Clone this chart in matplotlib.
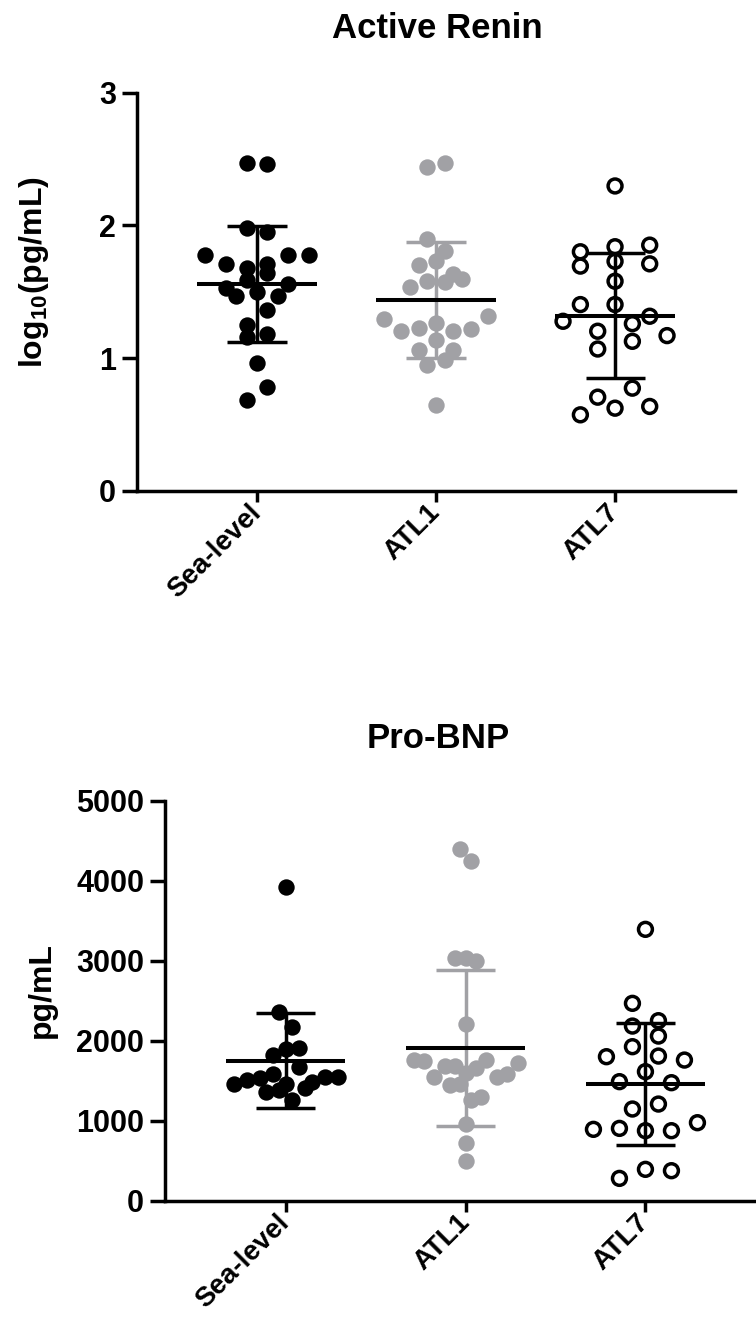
import numpy as np
import matplotlib
matplotlib.use("Agg")
from matplotlib import pyplot as plt

plt.rcParams['font.family'] = ['Liberation Sans', 'DejaVu Sans']
plt.rcParams['font.weight'] = 'bold'
plt.rcParams['mathtext.fontset'] = 'custom'
plt.rcParams['mathtext.rm'] = 'Liberation Sans:bold'
plt.rcParams['mathtext.bf'] = 'Liberation Sans:bold'

groups = ["Sea-level", "ATL1", "ATL7"]

# Active Renin, log10(pg/mL)  (roughly top-down, left-right)
renin_sea = [2.47, 2.46, 1.98, 1.95, 1.78, 1.71, 1.68, 1.71, 1.78, 1.78, 1.53, 1.59,
             1.64, 1.56, 1.47, 1.50, 1.47, 1.25, 1.36, 1.16, 1.18, 0.96, 0.68, 0.78]
renin_atl1 = [2.443, 2.468, 1.899, 1.806, 1.698, 1.73, 1.637, 1.537, 1.579, 1.572,
              1.597, 1.297, 1.207, 1.227, 1.264, 1.202, 1.222, 1.315, 1.058, 1.133,
              1.058, 0.95, 0.987, 0.647]
renin_atl7 = [2.297, 1.801, 1.839, 1.851, 1.693, 1.729, 1.71, 1.579, 1.403, 1.403,
              1.315, 1.277, 1.202, 1.259, 1.169, 1.068, 1.126, 0.705, 0.773, 0.572,
              0.622, 0.635]

# Pro-BNP, pg/mL
bnp_sea = [3925, 2362, 2175, 1821, 1892, 1912, 1458, 1508, 1529, 1583, 1458, 1675,
           1487, 1550, 1542, 1362, 1383, 1258, 1404]
bnp_atl1 = [4392, 4250, 3037, 3037, 3000, 2204, 1758, 1750, 1542, 1683, 1688, 1592,
            1654, 1758, 1542, 1583, 1725, 1446, 1458, 1258, 1300, 958, 725, 500]
bnp_atl7 = [3392, 2467, 2250, 2183, 2058, 1800, 1925, 1808, 1758, 1488, 1613, 1475,
            1146, 1208, 892, 904, 875, 875, 975, 279, 392, 375]

GRAY = '#A1A1A5'
styles = [dict(fc='black', ec='black', lw=0, bar='black'),
          dict(fc=GRAY, ec=GRAY, lw=0, bar=GRAY),
          dict(fc='none', ec='black', lw=2.5, bar='black')]


def row_scatter(ax, vals, row_px, half_px):
    # prism-like scatter: bin points into rows, spread each row evenly
    tr = ax.transData
    ypx = tr.transform(np.column_stack([np.zeros(len(vals)), vals]))[:, 1]
    unit = tr.transform((1, 0))[0] - tr.transform((0, 0))[0]
    order = np.argsort(-ypx, kind='stable')
    rows = []
    cur = [order[0]]
    for i in order[1:]:
        if ypx[cur[0]] - ypx[i] < row_px:
            cur.append(i)
        else:
            rows.append(cur)
            cur = [i]
    rows.append(cur)
    nmax = max(len(r) for r in rows)
    step = 2 * half_px / (nmax - 1) if nmax > 1 else 0
    xs = np.zeros(len(vals))
    for r in rows:
        r = sorted(r)
        n = len(r)
        for j, i in enumerate(r):
            xs[i] = (j - (n - 1) / 2) * step
    return xs / unit


def panel(ax, data, ymax, yticks, ylabel, row_px):
    ax.set_xlim(-0.67, 2.67)
    ax.set_ylim(0, ymax)
    for k, vals in enumerate(data):
        st = styles[k]
        vals = np.array(vals, dtype=float)
        off = row_scatter(ax, vals, row_px, 52)
        ax.scatter(k + off, vals, s=11.8 ** 2 if st['lw'] == 0 else 10 ** 2,
                   facecolors=st['fc'], edgecolors=st['ec'], linewidths=st['lw'],
                   zorder=2, clip_on=False)
        m = vals.mean()
        sd = vals.std(ddof=1)
        ax.plot([k, k], [m - sd, m + sd], color=st['bar'], lw=2.5, zorder=3,
                solid_capstyle='butt')
        for e in (m - sd, m + sd):
            ax.plot([k - 0.165, k + 0.165], [e, e], color=st['bar'], lw=2.5,
                    zorder=3, solid_capstyle='butt')
        ax.plot([k - 0.333, k + 0.333], [m, m], color='black', lw=2.9, zorder=4,
                solid_capstyle='butt')
    for s in ['top', 'right']:
        ax.spines[s].set_visible(False)
    for s in ['left', 'bottom']:
        ax.spines[s].set_linewidth(2.5)
    ax.set_yticks(yticks)
    ax.set_yticklabels([str(t) for t in yticks])
    ax.set_xticks(range(len(groups)))
    ax.set_xticklabels(groups, rotation=45, ha='right', va='center',
                       rotation_mode='anchor')
    ax.tick_params(axis='y', length=11, width=2.5, labelsize=22, pad=4)
    ax.tick_params(axis='x', length=8, width=2.5, labelsize=20, pad=5)
    ax.set_ylabel(ylabel, fontsize=23, fontweight='bold')


fig = plt.figure(figsize=(7.56, 13.37), dpi=100)
W, H = 756, 1337

ax1 = fig.add_axes([137 / W, 1 - 490.7 / H, 598 / W, 398 / H])
panel(ax1, [renin_sea, renin_atl1, renin_atl7], 3, [0, 1, 2, 3],
      r'log$_{10}$(pg/mL)', 16)
ax1.yaxis.set_label_coords(-0.143, 0.55)

ax2 = fig.add_axes([165 / W, 1 - 1200.7 / H, 601 / W, 400 / H])
panel(ax2, [bnp_sea, bnp_atl1, bnp_atl7], 5000, [0, 1000, 2000, 3000, 4000, 5000],
      'pg/mL', 18)
ax2.yaxis.set_label_coords(-0.18, 0.527)

fig.text(437 / W, 1 - 28 / H, 'Active Renin', ha='center', va='center',
         fontsize=25, fontweight='bold')
fig.text(438 / W, 1 - 738 / H, 'Pro-BNP', ha='center', va='center',
         fontsize=25, fontweight='bold')

fig.savefig('out.png', dpi=100)
